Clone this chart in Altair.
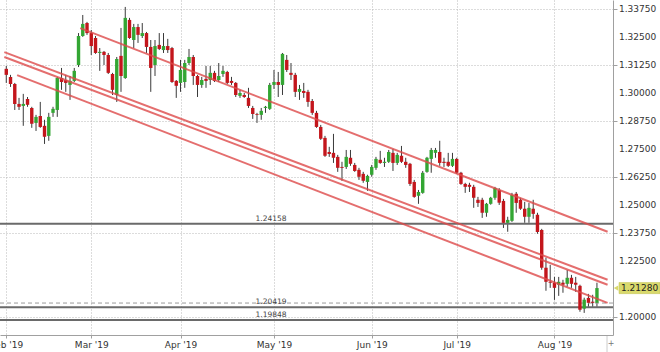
import json
import altair as alt
import numpy as np
import pandas as pd

# ---- daily candles (trading-day index 0 = 1 Feb 2019 ... 139 = 15 Aug 2019)
opens = [1.3109, 1.3073, 1.3041, 1.2952, 1.2943, 1.2974, 1.2934, 1.2867, 1.2898, 1.2854,
         1.2809, 1.2912, 1.2925, 1.3068, 1.3059, 1.3037, 1.3055, 1.3126, 1.3256, 1.3314,
         1.3269, 1.3247, 1.3180, 1.3185, 1.3171, 1.3086, 1.2992, 1.3167, 1.3068, 1.3328,
         1.3238, 1.3296, 1.3256, 1.3269, 1.3207, 1.3126, 1.3216, 1.3193, 1.3211, 1.3202,
         1.3055, 1.3046, 1.3050, 1.3135, 1.3162, 1.3077, 1.3037, 1.3064, 1.3059, 1.3091,
         1.3059, 1.3086, 1.3095, 1.3055, 1.3046, 1.2988, 1.2992, 1.2979, 1.2934, 1.2907,
         1.2903, 1.2934, 1.2930, 1.3037, 1.3050, 1.3037, 1.3149, 1.3091, 1.3082, 1.3006,
         1.3010, 1.3006, 1.2965, 1.2912, 1.2849, 1.2800, 1.2737, 1.2733, 1.2715, 1.2670,
         1.2670, 1.2711, 1.2679, 1.2657, 1.2639, 1.2603, 1.2635, 1.2666, 1.2702, 1.2688,
         1.2693, 1.2733, 1.2688, 1.2720, 1.2693, 1.2684, 1.2603, 1.2541, 1.2554, 1.2648,
         1.2706, 1.2733, 1.2737, 1.2693, 1.2693, 1.2675, 1.2706, 1.2644, 1.2594, 1.2590,
         1.2581, 1.2523, 1.2523, 1.2465, 1.2505, 1.2532, 1.2567, 1.2518, 1.2420, 1.2429,
         1.2550, 1.2523, 1.2483, 1.2447, 1.2483, 1.2456, 1.2388, 1.2219, 1.2156, 1.2152,
         1.2143, 1.2152, 1.2147, 1.2174, 1.2152, 1.2138, 1.2036, 1.2084, 1.2067, 1.2062]
highs = [1.3122, 1.3082, 1.3046, 1.2979, 1.2997, 1.2983, 1.2939, 1.2903, 1.2961, 1.2881,
         1.2912, 1.2939, 1.3073, 1.3113, 1.3082, 1.3077, 1.3113, 1.3269, 1.3350, 1.3319,
         1.3283, 1.3256, 1.3202, 1.3189, 1.3180, 1.3091, 1.3162, 1.3292, 1.3386, 1.3337,
         1.3310, 1.3310, 1.3314, 1.3274, 1.3238, 1.3238, 1.3269, 1.3269, 1.3243, 1.3207,
         1.3059, 1.3149, 1.3149, 1.3198, 1.3171, 1.3082, 1.3073, 1.3122, 1.3122, 1.3100,
         1.3135, 1.3122, 1.3100, 1.3073, 1.3050, 1.3015, 1.3001, 1.3024, 1.2943, 1.2912,
         1.2934, 1.2943, 1.3046, 1.3104, 1.3095, 1.3180, 1.3171, 1.3135, 1.3091, 1.3037,
         1.3046, 1.3015, 1.2974, 1.2921, 1.2858, 1.2809, 1.2760, 1.2818, 1.2724, 1.2693,
         1.2746, 1.2746, 1.2688, 1.2666, 1.2648, 1.2635, 1.2679, 1.2715, 1.2742, 1.2711,
         1.2746, 1.2751, 1.2733, 1.2764, 1.2711, 1.2688, 1.2612, 1.2567, 1.2652, 1.2715,
         1.2755, 1.2755, 1.2787, 1.2711, 1.2733, 1.2733, 1.2711, 1.2648, 1.2599, 1.2599,
         1.2590, 1.2536, 1.2532, 1.2509, 1.2536, 1.2581, 1.2575, 1.2527, 1.2447, 1.2554,
         1.2558, 1.2532, 1.2514, 1.2509, 1.2523, 1.2465, 1.2393, 1.2264, 1.2232, 1.2178,
         1.2178, 1.2165, 1.2209, 1.2187, 1.2178, 1.2143, 1.2085, 1.2102, 1.2098, 1.2152]
lows = [1.3046, 1.3028, 1.2925, 1.2925, 1.2854, 1.2939, 1.2845, 1.2831, 1.2845, 1.2773,
        1.2787, 1.2894, 1.2894, 1.3015, 1.3006, 1.2970, 1.3050, 1.3117, 1.3252, 1.3261,
        1.3171, 1.3176, 1.3100, 1.3126, 1.3086, 1.2992, 1.2961, 1.3006, 1.3064, 1.3243,
        1.3202, 1.3225, 1.3247, 1.3180, 1.3006, 1.3077, 1.3193, 1.3180, 1.3180, 1.3046,
        1.2979, 1.3006, 1.3024, 1.3126, 1.3037, 1.2983, 1.3024, 1.3024, 1.3037, 1.3050,
        1.3050, 1.3073, 1.3041, 1.3037, 1.2983, 1.2979, 1.2979, 1.2934, 1.2885, 1.2867,
        1.2881, 1.2912, 1.2925, 1.3019, 1.2983, 1.2992, 1.3095, 1.3059, 1.2983, 1.2970,
        1.2979, 1.2939, 1.2903, 1.2845, 1.2791, 1.2715, 1.2715, 1.2688, 1.2648, 1.2608,
        1.2661, 1.2675, 1.2648, 1.2612, 1.2599, 1.2563, 1.2626, 1.2657, 1.2684, 1.2670,
        1.2688, 1.2652, 1.2679, 1.2688, 1.2666, 1.2585, 1.2532, 1.2505, 1.2550, 1.2644,
        1.2644, 1.2711, 1.2675, 1.2670, 1.2670, 1.2670, 1.2639, 1.2590, 1.2554, 1.2558,
        1.2487, 1.2491, 1.2442, 1.2447, 1.2501, 1.2523, 1.2500, 1.2397, 1.2380, 1.2424,
        1.2465, 1.2478, 1.2420, 1.2420, 1.2438, 1.2371, 1.2210, 1.2116, 1.2129, 1.2075,
        1.2093, 1.2107, 1.2134, 1.2129, 1.2111, 1.2022, 1.2017, 1.2044, 1.2044, 1.2044]
closes = [1.3082, 1.3041, 1.2952, 1.2939, 1.2952, 1.2948, 1.2863, 1.2894, 1.2849, 1.2805,
          1.2894, 1.2930, 1.3068, 1.3050, 1.3046, 1.3055, 1.3100, 1.3256, 1.3310, 1.3269,
          1.3211, 1.3180, 1.3185, 1.3171, 1.3091, 1.3015, 1.3153, 1.3077, 1.3337, 1.3247,
          1.3296, 1.3261, 1.3269, 1.3207, 1.3113, 1.3211, 1.3198, 1.3211, 1.3193, 1.3050,
          1.3033, 1.3104, 1.3135, 1.3162, 1.3077, 1.3037, 1.3059, 1.3055, 1.3091, 1.3055,
          1.3077, 1.3100, 1.3046, 1.3046, 1.2992, 1.3001, 1.2983, 1.2943, 1.2907, 1.2903,
          1.2921, 1.2939, 1.3037, 1.3050, 1.3037, 1.3176, 1.3104, 1.3082, 1.3006, 1.3019,
          1.3001, 1.2961, 1.2912, 1.2849, 1.2796, 1.2720, 1.2728, 1.2711, 1.2666, 1.2666,
          1.2715, 1.2684, 1.2652, 1.2626, 1.2608, 1.2630, 1.2670, 1.2706, 1.2688, 1.2693,
          1.2737, 1.2688, 1.2724, 1.2693, 1.2679, 1.2594, 1.2536, 1.2558, 1.2644, 1.2711,
          1.2746, 1.2746, 1.2688, 1.2688, 1.2675, 1.2706, 1.2644, 1.2594, 1.2581, 1.2581,
          1.2532, 1.2509, 1.2465, 1.2505, 1.2532, 1.2576, 1.2510, 1.2420, 1.2433, 1.2545,
          1.2509, 1.2483, 1.2447, 1.2487, 1.2460, 1.2379, 1.2219, 1.2156, 1.2152, 1.2129,
          1.2156, 1.2143, 1.2174, 1.2147, 1.2143, 1.2031, 1.2076, 1.2062, 1.2062, 1.2128]

# ---- axis ticks / labels
month_pos = [0, 20, 41, 63, 86, 106, 129]
month_labels = ["Feb '19", "Mar '19", "Apr '19", "May '19", "Jun '19", "Jul '19", "Aug '19"]
price_ticks = [1.2000, 1.2250, 1.2375, 1.2500, 1.2625, 1.2750, 1.2875,
               1.3000, 1.3125, 1.3250, 1.3375]
price_tick_labels = ["1.20000", "1.22500", "1.23750", "1.25000", "1.26250", "1.27500",
                     "1.28750", "1.30000", "1.31250", "1.32500", "1.33750"]

# ---- trend lines (start index, start price, end index, end price)
trend_x0 = [17.4, -0.46, -0.46, 2.55]
trend_p0 = [1.3291, 1.3184, 1.3162, 1.3081]
trend_x1 = [141.5, 141.5, 141.5, 141.5]
trend_p1 = [1.2380, 1.2165, 1.2143, 1.2062]

# ---- horizontal levels
level_prices = [1.24158, 1.20419, 1.19848]
level_labels = ["1.24158", "1.20419", "1.19848"]
dashed_level = [1.2061]
last_price = [1.2128]
last_label = ["1.21280"]

FONT = "DejaVu Sans"
GREEN = "#33a633"
RED = "#c3161c"

df = pd.DataFrame({"i": np.arange(len(opens)), "open": opens, "high": highs,
                   "low": lows, "close": closes})
df["dir"] = np.where(df["close"] >= df["open"], "up", "down")

xs = alt.Scale(domain=[-0.3, 141.6], nice=False, zero=False)
ys = alt.Scale(domain=[1.1918, 1.3417], nice=False, zero=False)

label_expr = f"{json.dumps(month_labels)}[indexof({json.dumps(month_pos)}, datum.value)]"

x_axis = alt.Axis(values=month_pos, labelExpr=label_expr, grid=True, gridDash=[1, 2],
                  gridColor="#b8b8b8", domainColor="#a0a0a0", tickColor="#a0a0a0",
                  tickSize=3, labelPadding=2, labelFontSize=9, labelColor="#333333",
                  labelFont=FONT, labelFlush=False, labelOverlap=False, title=None)
y_axis = alt.Axis(orient="right", values=price_ticks, grid=True, labels=False,
                  gridDash=[1, 2], gridColor="#b8b8b8", domainColor="#a0a0a0",
                  tickColor="#a0a0a0", tickSize=4, title=None)

base = alt.Chart(df)

wicks = base.mark_rule(color="#3a3a3a", strokeWidth=1).encode(
    x=alt.X("i:Q", scale=xs, axis=x_axis, title=None),
    y=alt.Y("low:Q", scale=ys, axis=y_axis, title=None),
    y2="high:Q",
)

bodies = base.mark_bar(size=3.4).encode(
    x=alt.X("i:Q", title=None),
    y=alt.Y("open:Q", title=None),
    y2="close:Q",
    color=alt.Color("dir:N", scale=alt.Scale(domain=["up", "down"], range=[GREEN, RED]),
                    legend=None),
)

# right-hand price labels
tick_df = pd.DataFrame({"price": price_ticks, "label": price_tick_labels})
y_labels = alt.Chart(tick_df).mark_text(
    align="left", baseline="middle", fontSize=9, font=FONT, color="#333333"
).encode(x=alt.value(619), y=alt.Y("price:Q", title=None), text="label:N")

lev_df = pd.DataFrame({"price": level_prices, "label": level_labels})
levels = alt.Chart(lev_df).mark_rule(color="#6a6a6a", strokeWidth=2).encode(
    y=alt.Y("price:Q", title=None)
)
lev_text = alt.Chart(lev_df).mark_text(
    align="center", baseline="bottom", dy=-1, fontSize=7.5, font=FONT, color="#444444"
).encode(x=alt.value(271), y=alt.Y("price:Q", title=None), text="label:N")

dash_df = pd.DataFrame({"price": dashed_level})
dashed = alt.Chart(dash_df).mark_rule(color="#9a9a9a", strokeWidth=1, strokeDash=[4, 3]).encode(
    y=alt.Y("price:Q", title=None)
)

tr_df = pd.DataFrame({"x0": trend_x0, "p0": trend_p0, "x1": trend_x1, "p1": trend_p1})
trends = alt.Chart(tr_df).mark_rule(color="#dd4a4a", strokeWidth=2, opacity=0.8).encode(
    x=alt.X("x0:Q", title=None), x2="x1:Q",
    y=alt.Y("p0:Q", title=None), y2="p1:Q",
)

lp_df = pd.DataFrame({"price": last_price, "label": last_label})
lp_base = alt.Chart(lp_df).transform_calculate(
    top="datum.price + 0.0025", bot="datum.price - 0.0025"
)
lp_box = lp_base.mark_rect(color="#d9d96c", stroke="#c2c254", strokeWidth=0.5).encode(
    x=alt.value(619), x2=alt.value(660),
    y=alt.Y("top:Q", title=None), y2="bot:Q",
)
lp_arrow = alt.Chart(lp_df).mark_point(shape="triangle-left", filled=True, size=28,
                                       color="#d9d96c", opacity=1).encode(
    x=alt.value(616), y=alt.Y("price:Q", title=None)
)
lp_text = alt.Chart(lp_df).mark_text(align="left", baseline="middle", fontSize=9,
                                     font=FONT, color="#222222").encode(
    x=alt.value(621), y=alt.Y("price:Q", title=None), text="label:N"
)

corner_df = pd.DataFrame({"t": ["+"]})
corner_sep = alt.Chart(corner_df).mark_rule(color="#cccccc").encode(
    x=alt.value(607), y=alt.value(336), y2=alt.value(352)
)
corner_txt = alt.Chart(corner_df).mark_text(fontSize=8, font=FONT, color="#777777").encode(
    x=alt.value(611), y=alt.value(344), text="t:N"
)

chart = alt.layer(
    wicks, levels, dashed, bodies, trends, lev_text, y_labels, lp_box, lp_arrow, lp_text,
    corner_sep, corner_txt,
).properties(
    width=613, height=335,
    autosize=alt.AutoSizeParams(type="none"),
    padding={"left": 0, "top": 0, "right": 47, "bottom": 17},
    background="white",
).configure_view(strokeWidth=0)

chart.save("out.html", embed_options={"renderer": "svg", "actions": False})
